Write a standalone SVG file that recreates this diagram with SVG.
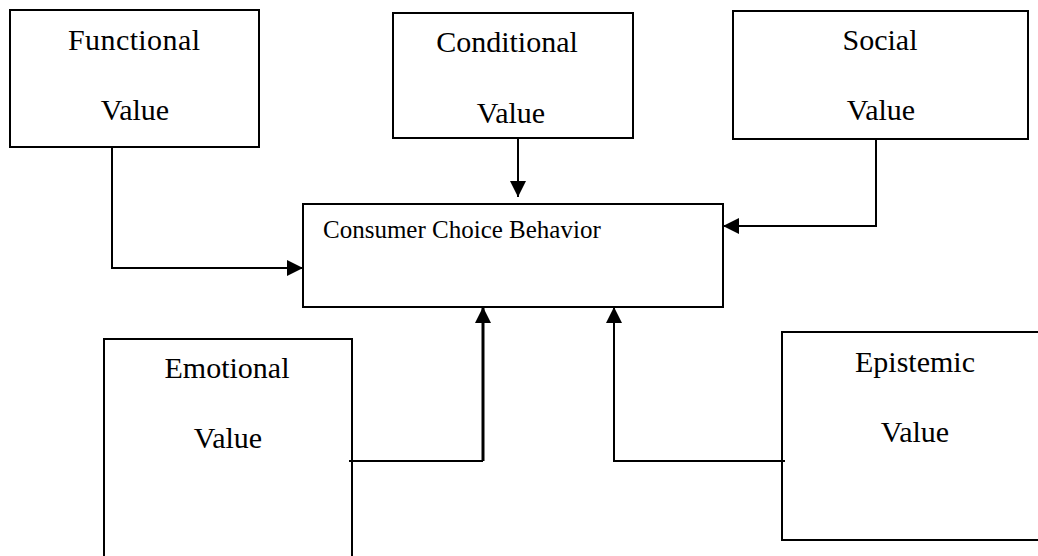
<svg xmlns="http://www.w3.org/2000/svg" width="1038" height="556" viewBox="0 0 1038 556">
  <style>
    .box { fill: #fff; stroke: #000; stroke-width: 2; }
    .lbl { font-family: "Liberation Serif", "Times New Roman", serif; font-size: 30px; fill: #000; text-anchor: middle; }
    .main { font-family: "Liberation Serif", "Times New Roman", serif; font-size: 25px; fill: #000; }
    .wire { fill: none; stroke: #000; stroke-width: 2; }
    .thick { stroke-width: 3; }
  </style>
  <defs>
    <marker id="arrow" viewBox="0 0 10 10" refX="10" refY="5" markerUnits="userSpaceOnUse" markerWidth="18" markerHeight="16" orient="auto">
      <path d="M0,0 L10,5 L0,10 Z" fill="#000"/>
    </marker>
  </defs>

  <rect width="1038" height="556" fill="#fff"/>

  <g id="functional">
    <rect class="box" x="10" y="10" width="249" height="137"/>
    <text class="lbl" x="134" y="50" textLength="132" lengthAdjust="spacing">Functional</text>
    <text class="lbl" x="135" y="120">Value</text>
  </g>

  <g id="conditional">
    <rect class="box" x="393" y="13" width="240" height="125"/>
    <text class="lbl" x="507" y="52">Conditional</text>
    <text class="lbl" x="511" y="123">Value</text>
  </g>

  <g id="social">
    <rect class="box" x="733" y="11" width="295" height="128"/>
    <text class="lbl" x="880" y="50">Social</text>
    <text class="lbl" x="881" y="120">Value</text>
  </g>

  <g id="consumer">
    <rect class="box" x="303" y="204" width="420" height="103"/>
    <text class="main" x="323" y="238">Consumer Choice Behavior</text>
  </g>

  <g id="emotional">
    <path class="box" d="M104,560 V339 H352 V560"/>
    <text class="lbl" x="227" y="378">Emotional</text>
    <text class="lbl" x="228" y="448">Value</text>
  </g>

  <g id="epistemic">
    <path class="box" d="M1042,332 H782 V540 H1042"/>
    <text class="lbl" x="915" y="372">Epistemic</text>
    <text class="lbl" x="915" y="442">Value</text>
  </g>

  <g id="connectors">
    <path class="wire" d="M112,147 V268 H303" marker-end="url(#arrow)"/>
    <path class="wire" d="M518,138 V197" marker-end="url(#arrow)"/>
    <path class="wire" d="M876,139 V226 H723" marker-end="url(#arrow)"/>
    <path class="wire" d="M349,461 H483"/>
    <path class="wire thick" d="M483,461 V307" marker-end="url(#arrow)"/>
    <path class="wire" d="M785,461 H614 V307" marker-end="url(#arrow)"/>
  </g>
</svg>
